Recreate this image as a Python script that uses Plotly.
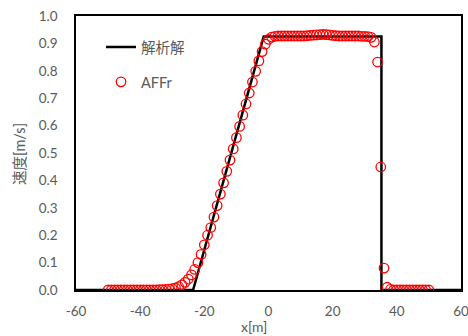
import plotly.graph_objects as go

# Analytical solution (polyline vertices)
ana_x = [-60, -23.5, -1.5, 35.2, 35.2, 60]
ana_y = [0.0, 0.0, 0.925, 0.925, 0.0, 0.0]

# Numerical (AFFr) results at x = -50..50
num_x = list(range(-50, 51))
num_y = [
    0.000, 0.000, 0.000, 0.000, 0.000, 0.000, 0.000, 0.000, 0.000, 0.000,   # -50..-41
    0.000, 0.000, 0.000, 0.000, 0.000, 0.000, 0.001, 0.001, 0.002, 0.003,   # -40..-31
    0.005, 0.008, 0.012, 0.019, 0.028, 0.040, 0.055, 0.075, 0.100, 0.130,   # -30..-21
    0.165, 0.200, 0.228, 0.266, 0.308, 0.350, 0.391, 0.433, 0.474, 0.515,   # -20..-11
    0.556, 0.597, 0.638, 0.679, 0.719, 0.759, 0.798, 0.836, 0.870, 0.897,   # -10..-1
    0.915, 0.923, 0.926, 0.927, 0.927, 0.927, 0.927, 0.927, 0.927, 0.927,   # 0..9
    0.927, 0.927, 0.928, 0.929, 0.930, 0.931, 0.932, 0.933, 0.932, 0.931,   # 10..19
    0.929, 0.928, 0.927, 0.927, 0.927, 0.927, 0.927, 0.927, 0.927, 0.926,   # 20..29
    0.926, 0.925, 0.922, 0.905, 0.832, 0.449, 0.080, 0.010, 0.002, 0.000,   # 30..39
    0.000, 0.000, 0.000, 0.000, 0.000, 0.000, 0.000, 0.000, 0.000, 0.000,   # 40..49
    0.000,                                                                  # 50
]

x_ticks = [-60, -40, -20, 0, 20, 40, 60]
y_ticks = [0.0, 0.1, 0.2, 0.3, 0.4, 0.5, 0.6, 0.7, 0.8, 0.9, 1.0]

FONT = "Lato, 'Noto Sans CJK JP', sans-serif"
GREY = "#595959"

fig = go.Figure()
fig.add_trace(go.Scatter(
    x=ana_x, y=ana_y, mode="lines", name="解析解", legendgroup="a",
    line=dict(color="black", width=2.5),
))
fig.add_trace(go.Scatter(
    x=num_x, y=num_y, mode="markers", name="AFFr", legendgroup="b",
    marker=dict(symbol="circle-open", size=9.5, color="red", line=dict(width=1.3, color="red")),
))

fig.update_layout(
    template="none",
    width=468, height=336,
    margin=dict(l=76, r=7, t=16, b=46, autoexpand=False),
    plot_bgcolor="white", paper_bgcolor="white",
    font=dict(family=FONT, size=13, color=GREY),
    showlegend=True,
    legend=dict(x=0.065, y=0.945, xanchor="left", yanchor="top",
                bgcolor="rgba(0,0,0,0)", font=dict(size=14.5, color=GREY),
                traceorder="grouped", tracegroupgap=13, itemwidth=30),
    annotations=[
        dict(text="x[m]", xref="paper", yref="paper", x=(254 - 76) / 385, y=-(326 - 290) / 274,
             xanchor="center", yanchor="middle", showarrow=False,
             font=dict(size=14, color=GREY, family=FONT)),
        dict(text="速度[m/s]", xref="paper", yref="paper", x=-(76 - 20) / 385, y=(290 - 154) / 274,
             xanchor="center", yanchor="middle", showarrow=False, textangle=-90,
             font=dict(size=14.5, color=GREY, family=FONT)),
    ],
)
fig.update_xaxes(
    range=[-60, 60], tickvals=x_ticks, ticktext=[str(v) for v in x_ticks],
    showgrid=False, zeroline=False, showline=True, linecolor="black", linewidth=1.5,
    mirror=True, ticks="", ticklabelstandoff=8, automargin=False,
    ticklabeloverflow="allow",
    tickfont=dict(size=13.5, color=GREY),
)
fig.update_yaxes(
    range=[0, 1.0], tickvals=y_ticks, ticktext=[f"{v:.1f}" for v in y_ticks],
    showgrid=False, zeroline=False, showline=True, linecolor="black", linewidth=1.5,
    mirror=True, ticks="", ticklabelstandoff=14, automargin=False,
    ticklabeloverflow="allow",
    tickfont=dict(size=13.5, color=GREY),
)

fig.write_html("out.html")
